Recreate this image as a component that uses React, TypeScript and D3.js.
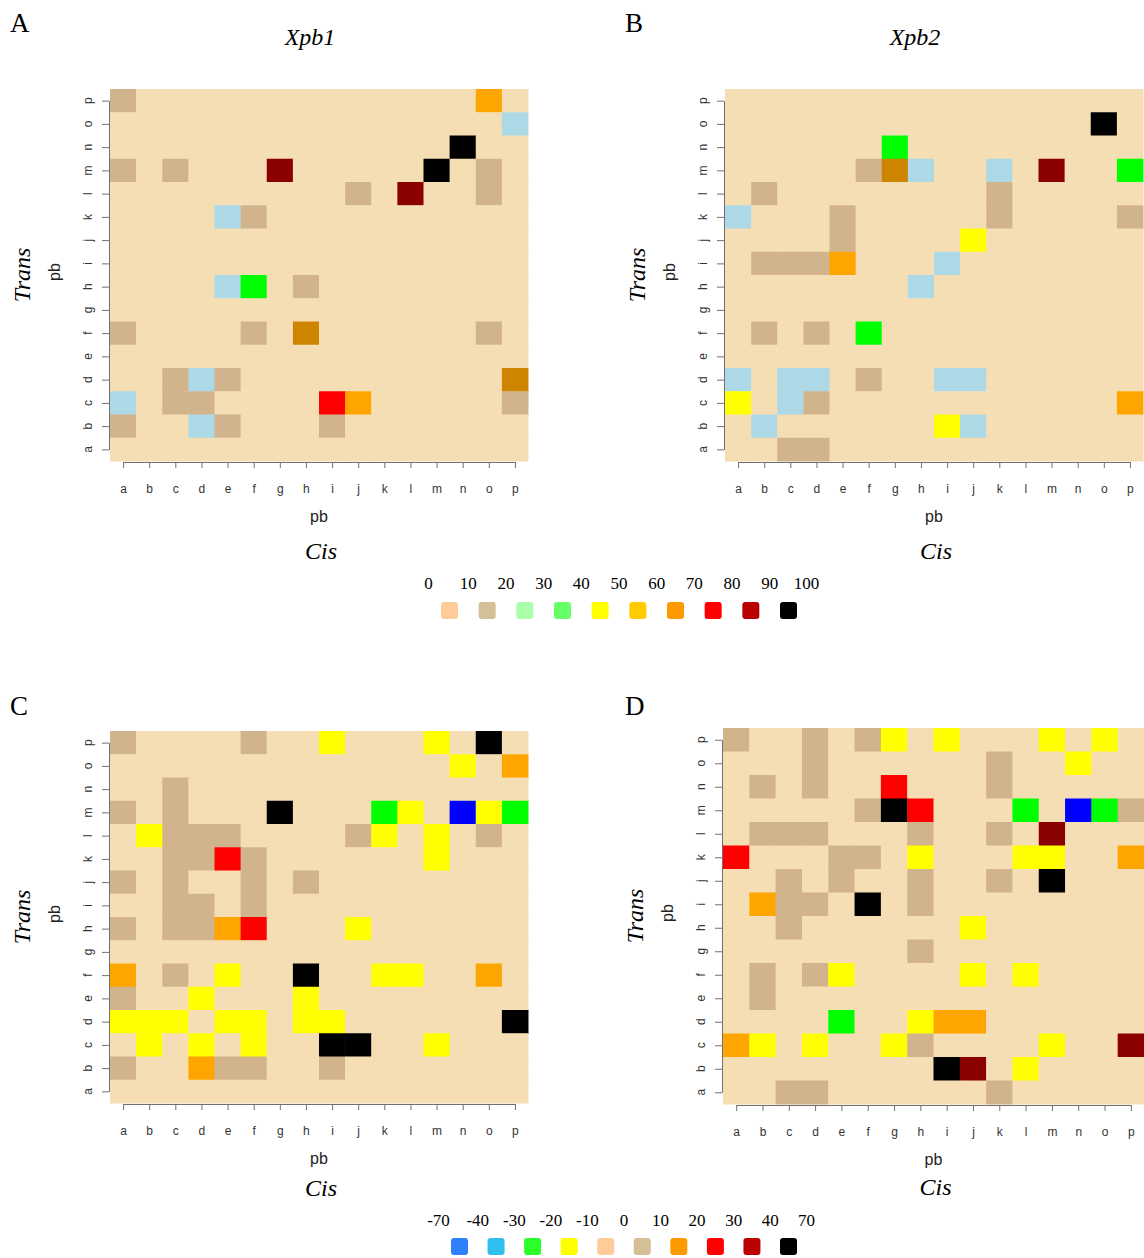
import React, { useEffect, useRef } from 'react';
import * as d3 from 'd3';

const pbLabels = ['a', 'b', 'c', 'd', 'e', 'f', 'g', 'h', 'i', 'j', 'k', 'l', 'm', 'n', 'o', 'p'];

// one string per Trans row, from p (top) down to a; one char per Cis column a..p
// . base  t tan  l lightblue  g green  y yellow  o orange  d dark orange
// r red  m dark red  k black  b blue
const xpb1Cells = [
  't.............o.',
  '...............l',
  '.............k..',
  't.t...m.....k.t.',
  '.........t.m..t.',
  '....lt..........',
  '................',
  '................',
  '....lg.t........',
  '................',
  't....t.d......t.',
  '................',
  '..tlt..........d',
  'l.tt....ro.....t',
  't..lt...t.......',
  '................',
];

const xpb2Cells = [
  '................',
  '..............k.',
  '......g.........',
  '.....tdl..l.m..g',
  '.t........t.....',
  'l...t.....t....t',
  '....t....y......',
  '.ttto...l.......',
  '.......l........',
  '................',
  '.t.t.g..........',
  '................',
  'l.ll.t..ll......',
  'y.lt...........o',
  '.l......yl......',
  '..tt............',
];

const panelCCells = [
  't....t..y...y.k.',
  '.............y.o',
  '..t.............',
  't.t...k...gy.byg',
  '.yttt....ty.y.t.',
  '..ttrt......y...',
  't.t..t.t........',
  '..tt.t..........',
  't.ttor...y......',
  '................',
  'o.t.y..k..yy..o.',
  't..y...y........',
  'yyy.yy.yy......k',
  '.y.y.y..kk..y...',
  't..ott..t.......',
  '................',
];

const panelDCells = [
  't..t.ty.y...y.y.',
  '...t......t..y..',
  '.t.t..r...t.....',
  '.....tkr...g.bgt',
  '.ttt...t..t.m...',
  'r...tt.y...yy..o',
  '..t.t..t..t.k...',
  '.ott.k.t........',
  '..t......y......',
  '.......t........',
  '.t.ty....y.y....',
  '.t..............',
  '....g..yoo......',
  'oy.y..yt....y..m',
  '........km.y....',
  '..tt......t.....',
];

const cellCodes = ['.', 't', 'l', 'g', 'y', 'o', 'd', 'r', 'm', 'k', 'b'];
const cellColors = ['#F5DEB3', '#D2B48C', '#ADD8E6', '#00FF00', '#FFFF00', '#FFA500', '#CD8500', '#FF0000', '#8B0000', '#000000', '#0000FF'];

const topLegendLabels = ['0', '10', '20', '30', '40', '50', '60', '70', '80', '90', '100'];
const topLegendColors = ['#FFCC99', '#D4BF96', '#AAFFAA', '#66FF66', '#FFFF00', '#FFCC00', '#FF9900', '#FF0000', '#BB0000', '#000000'];

const bottomLegendLabels = ['-70', '-40', '-30', '-20', '-10', '0', '10', '20', '30', '40', '70'];
const bottomLegendColors = ['#2F80FF', '#30BFF0', '#2AFF2A', '#FFFF00', '#FFCC99', '#D4BF96', '#FF9900', '#FF0000', '#BB0000', '#000000'];

const panels = [
  { letter: 'A', title: 'Xpb1', cells: xpb1Cells, x: 110, y: 89, w: 418, h: 372, lx: 10, ly: 32, tdx: -9, cis: 98 },
  { letter: 'B', title: 'Xpb2', cells: xpb2Cells, x: 725, y: 89, w: 418, h: 372, lx: 625, ly: 32, tdx: -19, cis: 98 },
  { letter: 'C', title: '', cells: panelCCells, x: 110, y: 731, w: 418, h: 372, lx: 10, ly: 715, tdx: 0, cis: 93 },
  { letter: 'D', title: '', cells: panelDCells, x: 723, y: 728, w: 421, h: 376, lx: 625, ly: 715, tdx: 0, cis: 91 },
];

const SERIF = '"Liberation Serif", "DejaVu Serif", serif';
const SANS = '"Liberation Sans", Arial, sans-serif';

const App = () => {
  const ref = useRef<SVGSVGElement>(null);

  useEffect(() => {
    const svg = d3.select(ref.current);
    svg.selectAll('*').remove();

    const color = d3.scaleOrdinal<string, string>().domain(cellCodes).range(cellColors);
    const rowOrder = pbLabels.slice().reverse();

    panels.forEach(p => {
      const g = svg.append('g');
      const x = d3.scaleBand().domain(pbLabels).range([p.x, p.x + p.w]);
      const y = d3.scaleBand().domain(rowOrder).range([p.y, p.y + p.h]);

      const cells = p.cells.flatMap((row, ri) =>
        row.split('').map((c, ci) => ({ col: pbLabels[ci], row: rowOrder[ri], code: c })));

      g.selectAll('rect.cell')
        .data(cells)
        .enter()
        .append('rect')
        .attr('class', 'cell')
        .attr('x', d => x(d.col)!)
        .attr('y', d => y(d.row)!)
        .attr('width', x.bandwidth() + 0.5)
        .attr('height', y.bandwidth() + 0.5)
        .attr('fill', d => color(d.code));

      // R-style axes: line spans first to last tick
      const xt = d3.scalePoint().domain(pbLabels).range([p.x + x.bandwidth() / 2, p.x + p.w - x.bandwidth() / 2]);
      const yt = d3.scalePoint().domain(rowOrder).range([p.y + y.bandwidth() / 2, p.y + p.h - y.bandwidth() / 2]);

      const xa = g.append('g')
        .attr('transform', `translate(0,${p.y + p.h + 1})`)
        .call(d3.axisBottom(xt).tickSize(6).tickSizeOuter(0).tickPadding(16));
      const ya = g.append('g')
        .attr('transform', `translate(${p.x - 1},0)`)
        .call(d3.axisLeft(yt).tickSize(7).tickSizeOuter(0).tickFormat(() => ''));

      [xa, ya].forEach(a => {
        a.select('.domain').attr('stroke', '#707070');
        a.selectAll('.tick line').attr('stroke', '#707070');
      });
      xa.selectAll('.tick text')
        .attr('fill', '#333')
        .style('font-family', SANS)
        .style('font-size', '12px');

      g.selectAll('text.ylab')
        .data(rowOrder)
        .enter()
        .append('text')
        .attr('class', 'ylab')
        .attr('transform', d => `translate(${p.x - 18},${yt(d)}) rotate(-90)`)
        .attr('text-anchor', 'middle')
        .attr('fill', '#333')
        .style('font-family', SANS)
        .style('font-size', '12px')
        .text(d => d);

      const cx = p.x + p.w / 2;
      const cy = p.y + p.h / 2;

      g.append('text')
        .attr('x', p.lx).attr('y', p.ly)
        .style('font-family', SERIF).style('font-size', '27px')
        .text(p.letter);

      if (p.title) {
        g.append('text')
          .attr('x', cx + p.tdx).attr('y', p.y - 44)
          .attr('text-anchor', 'middle')
          .style('font-family', SERIF).style('font-style', 'italic').style('font-size', '24px')
          .text(p.title);
      }

      g.append('text')
        .attr('x', cx).attr('y', p.y + p.h + 61)
        .attr('text-anchor', 'middle')
        .attr('fill', '#222')
        .style('font-family', SANS).style('font-size', '16px')
        .text('pb');
      g.append('text')
        .attr('x', cx + 2).attr('y', p.y + p.h + p.cis)
        .attr('text-anchor', 'middle')
        .style('font-family', SERIF).style('font-style', 'italic').style('font-size', '24px')
        .text('Cis');

      g.append('text')
        .attr('transform', `translate(${p.x - 50},${cy - 3}) rotate(-90)`)
        .attr('text-anchor', 'middle')
        .attr('fill', '#222')
        .style('font-family', SANS).style('font-size', '16px')
        .text('pb');
      g.append('text')
        .attr('transform', `translate(${p.x - 80},${cy}) rotate(-90)`)
        .attr('text-anchor', 'middle')
        .style('font-family', SERIF).style('font-style', 'italic').style('font-size', '24px')
        .text('Trans');
    });

    // legend: labels sit in the gaps between swatches, end labels outside
    const drawLegend = (labels: string[], colors: string[], boxRange: [number, number], ly: number, by: number) => {
      const g = svg.append('g');
      const bx = d3.scalePoint().domain(colors.map((_, i) => String(i))).range(boxRange);
      const step = bx.step();
      const labelX = (i: number) => {
        if (i === 0) return bx('0')! - 21;
        if (i === labels.length - 1) return bx(String(colors.length - 1))! + 18;
        return bx(String(i))! - step / 2;
      };
      g.selectAll('text')
        .data(labels)
        .enter()
        .append('text')
        .attr('x', (_, i) => labelX(i))
        .attr('y', ly)
        .attr('text-anchor', 'middle')
        .style('font-family', SERIF)
        .style('font-size', '17px')
        .text(d => d);
      g.selectAll('rect')
        .data(colors)
        .enter()
        .append('rect')
        .attr('x', (_, i) => bx(String(i))! - 8.5)
        .attr('y', by)
        .attr('width', 17)
        .attr('height', 17)
        .attr('rx', 3)
        .attr('fill', d => d);
    };

    drawLegend(topLegendLabels, topLegendColors, [449.5, 788.5], 589, 602);
    drawLegend(bottomLegendLabels, bottomLegendColors, [459.5, 788.5], 1226, 1238);
  }, []);

  return (
    <svg ref={ref} width={1144} height={1258}
      style={{ position: 'absolute', left: 0, top: 0, background: '#fff' }} />
  );
};

export default App;
